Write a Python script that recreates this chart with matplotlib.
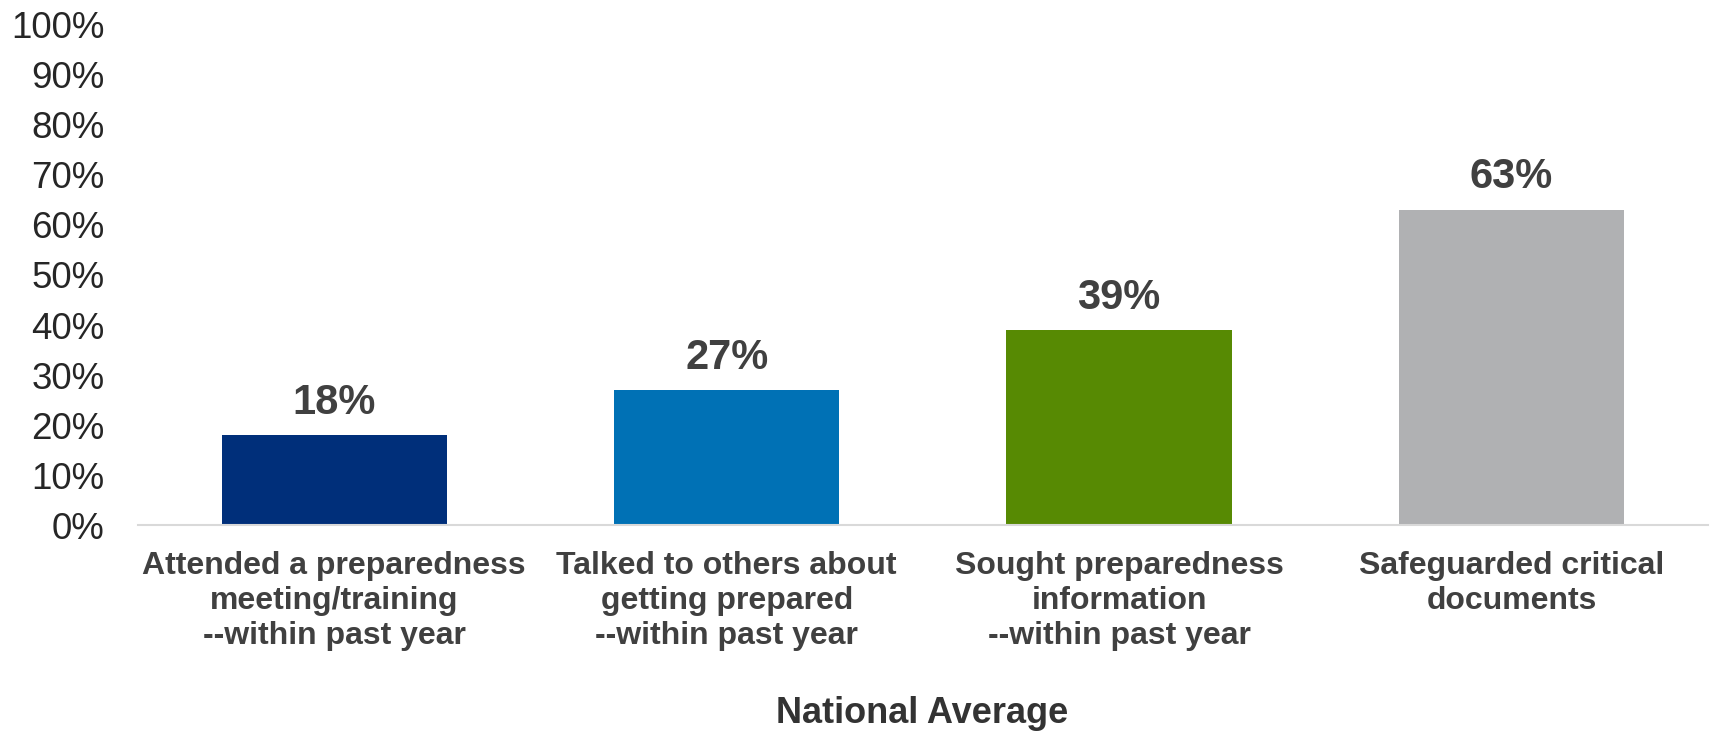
import matplotlib
matplotlib.use("Agg")
import matplotlib.pyplot as plt
from matplotlib.ticker import FuncFormatter

plt.rcParams['font.family'] = ['Liberation Sans', 'DejaVu Sans']

categories = [
    "Attended a preparedness\nmeeting/training\n--within past year",
    "Talked to others about\ngetting prepared\n--within past year",
    "Sought preparedness\ninformation\n--within past year",
    "Safeguarded critical\ndocuments",
]
values = [18, 27, 39, 63]
colors = ["#002F7A", "#0071B5", "#578A03", "#B0B1B3"]
yticks = list(range(0, 101, 10))
xlabel = "National Average"

fig = plt.figure(figsize=(17.1, 7.34), dpi=100)
ax = fig.add_axes([0.0807, 0.2847, 0.918, 0.6813])

x = range(len(values))
bars = ax.bar(x, values, width=0.574, color=colors)

for b, v in zip(bars, values):
    ax.annotate("{}%".format(v), (b.get_x() + b.get_width() / 2, v),
                xytext=(0, 9), textcoords="offset points",
                ha="center", va="bottom", fontsize=30, fontweight="bold",
                color="#404040")

ax.set_xlim(-0.5, 3.5)
ax.set_ylim(0, 100)
ax.set_yticks(yticks)
ax.yaxis.set_major_formatter(FuncFormatter(lambda v, p: "{:d}%".format(int(v))))
ax.set_xticks(list(x))
ax.set_xticklabels(categories, fontsize=23, fontweight="bold", color="#404040")
ax.tick_params(axis="y", length=0, pad=24, labelsize=26.5, labelcolor="#262626")
ax.tick_params(axis="x", length=0, pad=19)

for s in ["top", "right", "left"]:
    ax.spines[s].set_visible(False)
ax.spines["bottom"].set_color("#D9D9D9")
ax.spines["bottom"].set_linewidth(1.5)

fig.text(0.5395, 0.004, xlabel, ha="center", va="bottom", fontsize=26,
         fontweight="bold", color="#333333")

fig.savefig("out.png", dpi=100)
